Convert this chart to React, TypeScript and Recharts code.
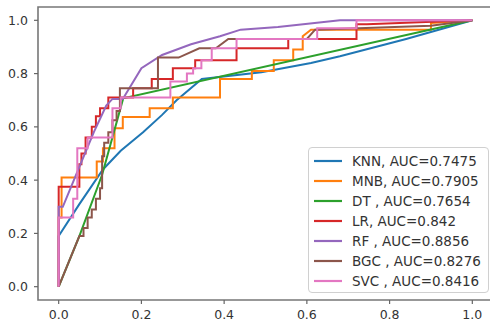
import React from 'react';
import { LineChart, Line, XAxis, YAxis, ReferenceArea, Legend } from 'recharts';

const axisTicks = [0, 0.2, 0.4, 0.6, 0.8, 1.0];

const modelNames = ['KNN', 'MNB', 'DT ', 'LR', 'RF ', 'BGC ', 'SVC '];
const aucValues = ['0.7475', '0.7905', '0.7654', '0.842', '0.8856', '0.8276', '0.8416'];
const colors = ['#1f77b4', '#ff7f0e', '#2ca02c', '#d62728', '#9467bd', '#8c564b', '#e377c2'];

const knnFpr = [0, 0, 0.05, 0.107, 0.15, 0.204, 0.25, 0.285, 0.346, 0.49, 0.61, 0.68, 0.84, 1];
const knnTpr = [0, 0.19, 0.31, 0.44, 0.51, 0.58, 0.645, 0.7, 0.78, 0.805, 0.84, 0.865, 0.93, 1];

const mnbFpr = [0, 0, 0.007, 0.007, 0.092, 0.092, 0.107, 0.107, 0.135, 0.135, 0.155, 0.155, 0.22, 0.22, 0.276, 0.276, 0.39, 0.39, 0.467, 0.467, 0.52, 0.52, 0.567, 0.567, 0.59, 0.59, 0.61, 0.9, 0.9, 1];
const mnbTpr = [0, 0.26, 0.26, 0.41, 0.41, 0.47, 0.47, 0.52, 0.52, 0.595, 0.595, 0.637, 0.637, 0.67, 0.67, 0.71, 0.71, 0.78, 0.78, 0.81, 0.81, 0.85, 0.85, 0.89, 0.89, 0.94, 0.965, 0.965, 0.99, 1];

const dtFpr = [0, 0.05, 0.105, 0.156, 1];
const dtTpr = [0, 0.19, 0.42, 0.707, 1];

const lrFpr = [0, 0, 0.05, 0.05, 0.055, 0.055, 0.065, 0.065, 0.08, 0.08, 0.09, 0.09, 0.1, 0.1, 0.12, 0.12, 0.18, 0.18, 0.225, 0.225, 0.276, 0.276, 0.33, 0.33, 0.43, 0.43, 0.555, 0.555, 0.72, 0.72, 0.745, 1];
const lrTpr = [0, 0.375, 0.375, 0.46, 0.46, 0.5, 0.5, 0.56, 0.56, 0.6, 0.6, 0.64, 0.64, 0.67, 0.67, 0.71, 0.71, 0.745, 0.745, 0.78, 0.78, 0.82, 0.82, 0.85, 0.85, 0.895, 0.895, 0.93, 0.93, 0.985, 0.985, 1];

const rfFpr = [0, 0, 0.01, 0.05, 0.085, 0.115, 0.13, 0.155, 0.2, 0.25, 0.32, 0.39, 0.44, 0.53, 0.68, 1];
const rfTpr = [0, 0.3, 0.3, 0.45, 0.58, 0.68, 0.705, 0.705, 0.82, 0.87, 0.91, 0.94, 0.965, 0.975, 1, 1];

const bgcFpr = [0, 0.05, 0.06, 0.06, 0.07, 0.07, 0.08, 0.08, 0.09, 0.09, 0.1, 0.1, 0.105, 0.105, 0.11, 0.11, 0.12, 0.12, 0.13, 0.13, 0.14, 0.14, 0.148, 0.148, 0.24, 0.24, 0.29, 0.34, 0.38, 0.41, 0.6, 0.62, 0.9, 1];
const bgcTpr = [0, 0.19, 0.19, 0.22, 0.22, 0.26, 0.26, 0.29, 0.29, 0.33, 0.33, 0.37, 0.37, 0.49, 0.49, 0.54, 0.54, 0.58, 0.58, 0.625, 0.625, 0.66, 0.66, 0.745, 0.745, 0.86, 0.86, 0.895, 0.895, 0.93, 0.93, 0.965, 0.98, 1];

const svcFpr = [0, 0, 0.035, 0.035, 0.045, 0.045, 0.07, 0.07, 0.13, 0.13, 0.15, 0.15, 0.27, 0.27, 0.31, 0.31, 0.325, 0.325, 0.345, 0.345, 0.37, 0.37, 0.43, 0.43, 0.625, 0.625, 0.72, 0.72, 1];
const svcTpr = [0, 0.26, 0.26, 0.33, 0.33, 0.52, 0.52, 0.56, 0.56, 0.67, 0.67, 0.71, 0.71, 0.77, 0.77, 0.8, 0.8, 0.82, 0.82, 0.85, 0.85, 0.895, 0.895, 0.93, 0.93, 0.97, 0.97, 1, 1];

const zip = (xs: number[], ys: number[]) => xs.map((x, i) => ({ x, y: ys[i] }));

const curves = [
  zip(knnFpr, knnTpr),
  zip(mnbFpr, mnbTpr),
  zip(dtFpr, dtTpr),
  zip(lrFpr, lrTpr),
  zip(rfFpr, rfTpr),
  zip(bgcFpr, bgcTpr),
  zip(svcFpr, svcTpr),
];

const series = modelNames.map((name, i) => ({
  label: `${name}, AUC=${aucValues[i]}`,
  color: colors[i],
  data: curves[i],
}));

const FONT = '"DejaVu Sans", sans-serif';

const LegendBox = () => (
  <div
    style={{
      boxSizing: 'border-box',
      width: 181,
      height: 146,
      border: '1px solid #d0d0d0',
      borderRadius: 4,
      background: 'rgba(255,255,255,0.85)',
      paddingTop: 3,
      fontFamily: FONT,
    }}
  >
    {series.map((s) => (
      <div key={s.label} style={{ display: 'flex', alignItems: 'center', height: 20 }}>
        <svg width={43} height={20} style={{ flex: 'none' }}>
          <line x1={5} x2={33} y1={10} y2={10} stroke={s.color} strokeWidth={2.2} />
        </svg>
        <span style={{ fontSize: 13.5, color: '#333', whiteSpace: 'pre' }}>{s.label}</span>
      </div>
    ))}
  </div>
);

export default function App() {
  return (
    <div
      style={{
        position: 'absolute',
        left: 0,
        top: 0,
        width: 490,
        height: 332,
        overflow: 'hidden',
        background: '#fff',
        fontFamily: FONT,
      }}
    >
      <LineChart width={494} height={332} margin={{ top: 7, right: 1, bottom: 0, left: 0 }}>
        <XAxis
          type="number"
          dataKey="x"
          domain={[-0.05, 1.05]}
          ticks={axisTicks}
          tickFormatter={(v: number) => v.toFixed(1)}
          allowDataOverflow
          height={32}
          axisLine={false}
          tickSize={4}
          tickMargin={6}
          tick={{ fill: '#333', fontSize: 12.5, fontFamily: FONT }}
          tickLine={{ stroke: '#666', strokeWidth: 1.2 }}
        />
        <YAxis
          type="number"
          dataKey="y"
          domain={[-0.05, 1.05]}
          ticks={axisTicks}
          tickFormatter={(v: number) => v.toFixed(1)}
          allowDataOverflow
          width={38}
          axisLine={false}
          tickSize={4}
          tickMargin={6}
          tick={{ fill: '#333', fontSize: 12.5, fontFamily: FONT }}
          tickLine={{ stroke: '#666', strokeWidth: 1.2 }}
        />
        <ReferenceArea
          x1={-0.05}
          x2={1.05}
          y1={-0.05}
          y2={1.05}
          fill="none"
          fillOpacity={0}
          stroke="#777"
          strokeWidth={1.6}
          ifOverflow="visible"
        />
        {series.map((s) => (
          <Line
            key={s.label}
            data={s.data}
            dataKey="y"
            type="linear"
            stroke={s.color}
            strokeWidth={2}
            dot={false}
            activeDot={false}
            isAnimationActive={false}
          />
        ))}
        <Legend
          layout="vertical"
          align="center"
          verticalAlign="middle"
          content={() => <LegendBox />}
          wrapperStyle={{ position: 'absolute', left: 308, top: 147, width: 181, height: 146 }}
        />
      </LineChart>
    </div>
  );
}
